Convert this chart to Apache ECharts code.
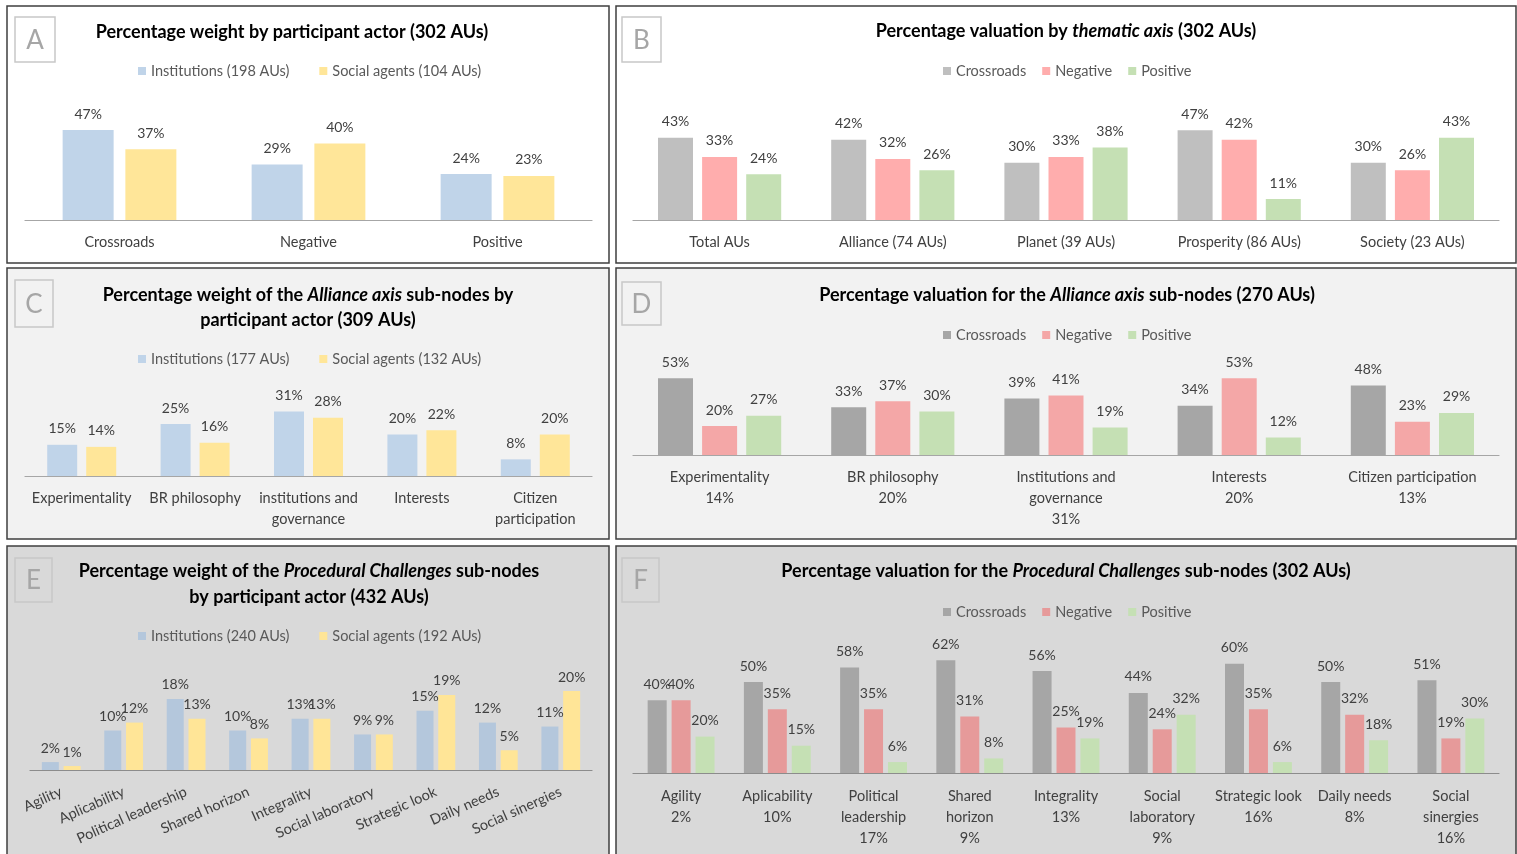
<!DOCTYPE html>
<html><head><meta charset="utf-8">
<script src="https://cdn.jsdelivr.net/npm/echarts@6/dist/echarts.min.js"></script>
<style>html,body{margin:0;padding:0;background:#fff}#c{width:1517px;height:854px}</style>
</head><body><div id="c"></div>
<script>
// ---------- DATA ----------
const catsA = ['Crossroads', 'Negative', 'Positive'];
const instA = [47, 29, 24];
const socA = [37, 40, 23];

const catsB = ['Total AUs', 'Alliance (74 AUs)', 'Planet (39 AUs)', 'Prosperity (86 AUs)', 'Society (23 AUs)'];
const crossB = [43, 42, 30, 47, 30];
const negB = [33, 32, 33, 42, 26];
const posB = [24, 26, 38, 11, 43];

const catsC = ['Experimentality', 'BR philosophy', 'institutions and\ngovernance', 'Interests', 'Citizen\nparticipation'];
const instC = [15, 25, 31, 20, 8];
const socC = [14, 16, 28, 22, 20];

const catsD = ['Experimentality\n14%', 'BR philosophy\n20%', 'Institutions and\ngovernance\n31%', 'Interests\n20%', 'Citizen participation\n13%'];
const crossD = [53, 33, 39, 34, 48];
const negD = [20, 37, 41, 53, 23];
const posD = [27, 30, 19, 12, 29];

const catsE = ['Agility', 'Aplicability', 'Political leadership', 'Shared horizon', 'Integrality', 'Social laboratory', 'Strategic look', 'Daily needs', 'Social sinergies'];
const instE = [2, 10, 18, 10, 13, 9, 15, 12, 11];
const socE = [1, 12, 13, 8, 13, 9, 19, 5, 20];

const catsF = ['Agility\n2%', 'Aplicability\n10%', 'Political\nleadership\n17%', 'Shared\nhorizon\n9%', 'Integrality\n13%', 'Social\nlaboratory\n9%', 'Strategic look\n16%', 'Daily needs\n8%', 'Social\nsinergies\n16%'];
const crossF = [40, 50, 58, 62, 56, 44, 60, 50, 51];
const negF = [40, 35, 35, 31, 25, 24, 35, 32, 19];
const posF = [20, 15, 6, 8, 19, 32, 6, 18, 30];

const legA = ['Institutions (198 AUs)', 'Social agents (104 AUs)'];
const legC = ['Institutions (177 AUs)', 'Social agents (132 AUs)'];
const legE = ['Institutions (240 AUs)', 'Social agents (192 AUs)'];
const legVal = ['Crossroads', 'Negative', 'Positive'];

// ---------- STYLE / LAYOUT ----------
const FONT = 'Lato, "Open Sans", sans-serif';
const TXT = '#404040';
const SMALL = 14.5;

const panels = [
  {key:'A', x:7, y:6, w:602, h:257, bg:'#ffffff', box:[15,17,40,45],
   grid:{left:25, top:124.25, width:567, height:95.75}, max:50, cats:catsA,
   axisColor:'#a6a6a6', margin:12, rotate:0,
   title:{x:292, y:32, text:'Percentage weight by participant actor (302 AUs)'},
   legend:{left:138, top:63.5, gap:30, names:legA, colors:['#c0d4e9','#ffe699']},
   series:[instA, socA], barWidth:51, barGap:'23%'},
  {key:'B', x:616, y:6, w:900, h:257, bg:'#ffffff', box:[622,17,39,45],
   grid:{left:633, top:124.5, width:866, height:95.5}, max:50, cats:catsB,
   axisColor:'#a6a6a6', margin:12, rotate:0,
   title:{x:1066, y:31, text:'Percentage valuation by {i|thematic axis} (302 AUs)'},
   legend:{left:943, top:63.5, gap:16, names:legVal, colors:['#bfbfbf','#ffadad','#c5e0b4']},
   series:[crossB, negB, posB], barWidth:35, barGap:'26%'},
  {key:'C', x:7, y:268, w:602, h:271, bg:'#f2f2f2', box:[15,280,38,47],
   grid:{left:25, top:403.2, width:567, height:72.8}, max:35, cats:catsC,
   axisColor:'#a6a6a6', margin:11.5, rotate:0,
   title:{x:308, y:307.5, text:'Percentage weight of the {i|Alliance axis} sub-nodes by\nparticipant actor (309 AUs)', lh:25},
   legend:{left:138, top:351.5, gap:30, names:legC, colors:['#c0d4e9','#ffe699']},
   series:[instC, socC], barWidth:30, barGap:'30%'},
  {key:'D', x:616, y:268, w:900, h:271, bg:'#f2f2f2', box:[622,282,39,43],
   grid:{left:633, top:368, width:866, height:87}, max:60, cats:catsD,
   axisColor:'#a6a6a6', margin:11.5, rotate:0,
   title:{x:1067, y:295, text:'Percentage valuation for the {i|Alliance axis} sub-nodes (270 AUs)'},
   legend:{left:943, top:327.5, gap:16, names:legVal, colors:['#a6a6a6','#f4a7a7','#c5e0b4']},
   series:[crossD, negD, posD], barWidth:35, barGap:'26%'},
  {key:'E', x:7, y:546, w:602, h:320, bg:'#d9d9d9', box:[15,558,37,44],
   grid:{left:30, top:671.25, width:562, height:98.75}, max:25, cats:catsE,
   axisColor:'#8c8c8c', margin:21, rotate:24,
   title:{x:309, y:584, text:'Percentage weight of the {i|Procedural Challenges} sub-nodes\nby participant actor (432 AUs)', lh:26},
   legend:{left:138, top:628.5, gap:30, names:legE, colors:['#b4c7dc','#ffe597']},
   series:[instE, socE], barWidth:17, barGap:'28%'},
  {key:'F', x:616, y:546, w:900, h:320, bg:'#d9d9d9', box:[622,558,37,44],
   grid:{left:633, top:645.6, width:866, height:127.4}, max:70, cats:catsF,
   axisColor:'#8c8c8c', margin:12.5, rotate:0,
   title:{x:1066, y:571, text:'Percentage valuation for the {i|Procedural Challenges} sub-nodes (302 AUs)'},
   legend:{left:943, top:604.5, gap:16, names:legVal, colors:['#a6a6a6','#e69a9a','#c5e0b4']},
   series:[crossF, negF, posF], barWidth:19, barGap:'26%'}
];

const grids = [], xAxes = [], yAxes = [], series = [], legends = [], graphics = [];

panels.forEach((p, i) => {
  graphics.push({type:'rect', z:-10, shape:{x:p.x, y:p.y, width:p.w, height:p.h}, style:{fill:p.bg}});
  graphics.push({type:'rect', z:50, shape:{x:p.x, y:p.y, width:p.w, height:p.h}, style:{fill:null, stroke:'#3f3f3f', lineWidth:1.5}});
  graphics.push({type:'rect', z:50, shape:{x:p.box[0], y:p.box[1], width:p.box[2], height:p.box[3]}, style:{fill:null, stroke:'#c8c8c8', lineWidth:1.5}});
  graphics.push({type:'text', z:50, style:{x:p.box[0]+p.box[2]/2, y:p.box[1]+p.box[3]/2+1, text:p.key, align:'center', verticalAlign:'middle',
    fontSize:26, fontFamily:FONT, fill:'#a6a6a6'}});
  graphics.push({type:'text', z:50, style:{x:p.title.x, y:p.title.y, text:p.title.text, align:'center', verticalAlign:'middle',
    fontSize:18, fontWeight:'bold', fontFamily:FONT, fill:'#000', lineHeight:p.title.lh || 20,
    rich:{i:{fontStyle:'italic', fontWeight:'bold', fontSize:18, fontFamily:FONT, fill:'#000', lineHeight:p.title.lh || 20}}}});

  grids.push(Object.assign({containLabel:false}, p.grid));
  xAxes.push({type:'category', gridIndex:i, data:p.cats,
    axisLine:{lineStyle:{color:p.axisColor, width:1.2}}, axisTick:{show:false},
    axisLabel:{interval:0, color:TXT, fontSize:SMALL, fontFamily:FONT, lineHeight:21, margin:p.margin, rotate:p.rotate}});
  yAxes.push({type:'value', gridIndex:i, min:0, max:p.max, show:false, splitLine:{show:false}});
  p.series.forEach((vals, k) => {
    series.push({type:'bar', name:p.legend.names[k], xAxisIndex:i, yAxisIndex:i, data:vals,
      barWidth:p.barWidth, barGap:p.barGap, itemStyle:{color:p.legend.colors[k]},
      label:{show:true, position:'top', distance:p.key==='E'?7:9, formatter:'{c}%', fontSize:14, color:TXT, fontFamily:FONT}});
  });
  legends.push({left:p.legend.left, top:p.legend.top, padding:0, itemGap:p.legend.gap, itemWidth:8, itemHeight:8, icon:'rect',
    selectedMode:false,
    textStyle:{fontSize:SMALL, color:'#595959', fontFamily:FONT},
    data:p.legend.names.map((n, k) => ({name:n, itemStyle:{color:p.legend.colors[k]}}))});
});

const chart = echarts.init(document.getElementById('c'), null, {renderer:'canvas'});
chart.setOption({animation:false, grid:grids, xAxis:xAxes, yAxis:yAxes, series:series, legend:legends, graphic:graphics});
</script>
</body></html>
